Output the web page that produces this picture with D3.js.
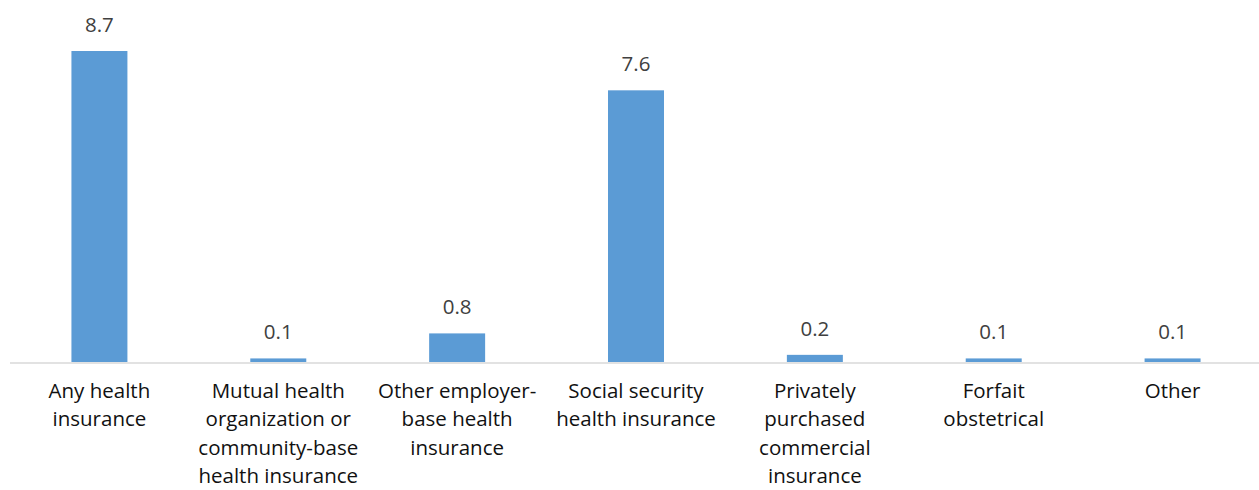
<!DOCTYPE html>
<html><head><meta charset="utf-8">
<script src="https://cdn.jsdelivr.net/npm/d3@7"></script>
<style>body{margin:0;background:#fff}svg{display:block}</style>
</head><body>
<script>
const categories = [
  ["Any health","insurance"],
  ["Mutual health","organization or","community-base","health insurance"],
  ["Other employer-","base health","insurance"],
  ["Social security","health insurance"],
  ["Privately","purchased","commercial","insurance"],
  ["Forfait","obstetrical"],
  ["Other"]
];
const values = [8.7, 0.1, 0.8, 7.6, 0.2, 0.1, 0.1];

const W = 1259, H = 490;
const margin = {left: 10, right: -3, top: 51, bottom: 128};
const svg = d3.select("body").append("svg").attr("width", W).attr("height", H);
const keys = categories.map((c,i)=>i);
const x = d3.scaleBand().domain(keys).range([margin.left, W - margin.right]).paddingInner(0.687).paddingOuter(0.3435);
const y = d3.scaleLinear().domain([0, 8.7]).range([H - margin.bottom, margin.top]);
const font = "'Open Sans', sans-serif";

svg.selectAll("rect.bar").data(values).join("rect")
  .attr("x", (d,i)=>x(i)).attr("width", x.bandwidth())
  .attr("y", d=>y(d)).attr("height", d=>y(0)-y(d))
  .attr("fill", "#5b9bd5");

svg.append("line").attr("x1", margin.left).attr("x2", W)
  .attr("y1", y(0)+1).attr("y2", y(0)+1)
  .attr("stroke", "#d9d9d9").attr("stroke-width", 1.5);

svg.selectAll("text.val").data(values).join("text")
  .attr("x", (d,i)=>x(i)+x.bandwidth()/2).attr("y", d=>y(d)-19)
  .attr("text-anchor","middle").attr("font-family",font).attr("font-size",20.5)
  .attr("fill","#404040").text(d=>d.toFixed(1));

const lab = svg.selectAll("text.cat").data(categories).join("text")
  .attr("text-anchor","middle").attr("font-family",font).attr("font-size",20.5)
  .attr("fill","#111");
lab.each(function(lines,i){
  const t = d3.select(this);
  lines.forEach((l,j)=>{
    t.append("tspan").attr("x", x(i)+x.bandwidth()/2).attr("y", y(0)+36+j*28.3).text(l);
  });
});
</script>
</body></html>
